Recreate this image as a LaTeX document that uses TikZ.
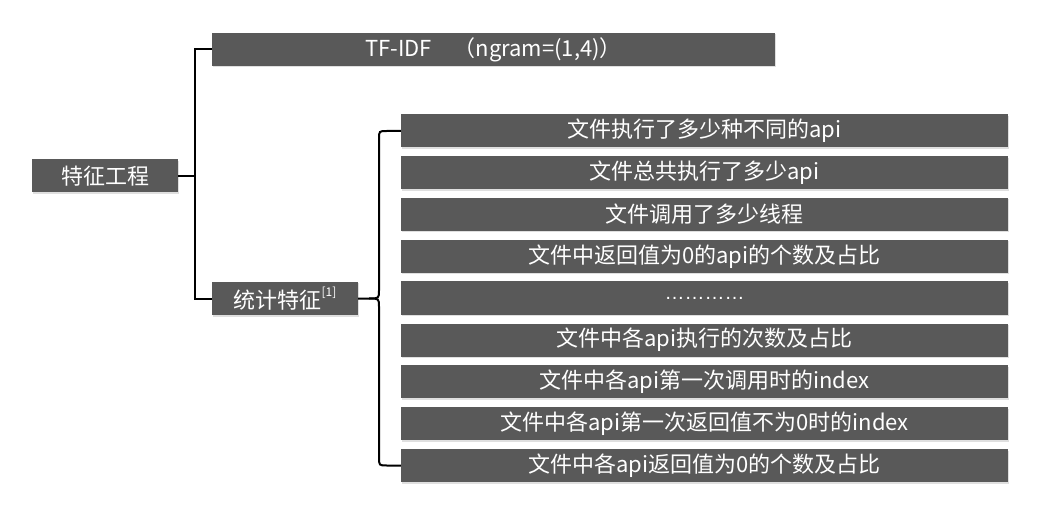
\documentclass[tikz,border=0pt]{standalone}
\usepackage{fontspec}
\setmainfont{Noto Sans CJK SC}
\newfontfamily\latinfont{Liberation Sans}
\usetikzlibrary{shadows}
\definecolor{boxgray}{HTML}{595959}
\tikzset{
  box/.style={rectangle, fill=boxgray, text=white, inner sep=0pt, minimum height=33pt,
    font=\fontsize{22}{26}\selectfont,
    drop shadow={shadow xshift=1.2pt, shadow yshift=-1.5pt, opacity=0.25}},
  leftbox/.style={box, minimum width=146pt},
  rbox/.style={box, minimum width=607pt},
  conn/.style={draw=black, line width=2pt},
}
\begin{document}
\begin{tikzpicture}[x=1pt,y=-1pt]
\useasboundingbox (0,0) rectangle (1050,505);
\node[leftbox] (root) at (105,176) {特征工程};
\node[box, minimum width=563pt] (tf) at (493.5,49.5) {TF-IDF\quad（ngram=(1,4)）};
\node[leftbox] (stat) at (285,298.5) {统计特征\raisebox{0.55em}{\fontsize{12}{14}\selectfont[1]}};
\node[rbox] (r1) at (704.5,131) {文件执行了多少种不同的api};
\node[rbox] (r2) at (704.5,173) {文件总共执行了多少api};
\node[rbox] (r3) at (704.5,214.5) {文件调用了多少线程};
\node[rbox] (r4) at (704.5,256.5) {文件中返回值为0的api的个数及占比};
\node[rbox] (r5) at (704.5,298) {\latinfont\fontsize{20}{24}\selectfont …………};
\node[rbox] (r6) at (704.5,340) {文件中各api执行的次数及占比};
\node[rbox] (r7) at (704.5,381.5) {文件中各api第一次调用时的index};
\node[rbox] (r8) at (704.5,423.5) {文件中各api第一次返回值不为0时的index};
\node[rbox] (r9) at (704.5,465.5) {文件中各api返回值为0的个数及占比};
\coordinate (j1) at (195,176);
\draw[conn] (root.east) -- (j1);
\draw[conn] (tf.west) -| (j1);
\draw[conn] (stat.west) -| (j1);
\draw[conn] (r1.west) -- (387,131) .. controls (379,131) .. (379,139) -- (379,290)
  .. controls (379,298.5) .. (369,298.5) -- (stat.east);
\draw[conn] (r9.west) -- (387,465.5) .. controls (379,465.5) .. (379,457) -- (379,307)
  .. controls (379,298.5) .. (369,298.5);
\end{tikzpicture}
\end{document}
